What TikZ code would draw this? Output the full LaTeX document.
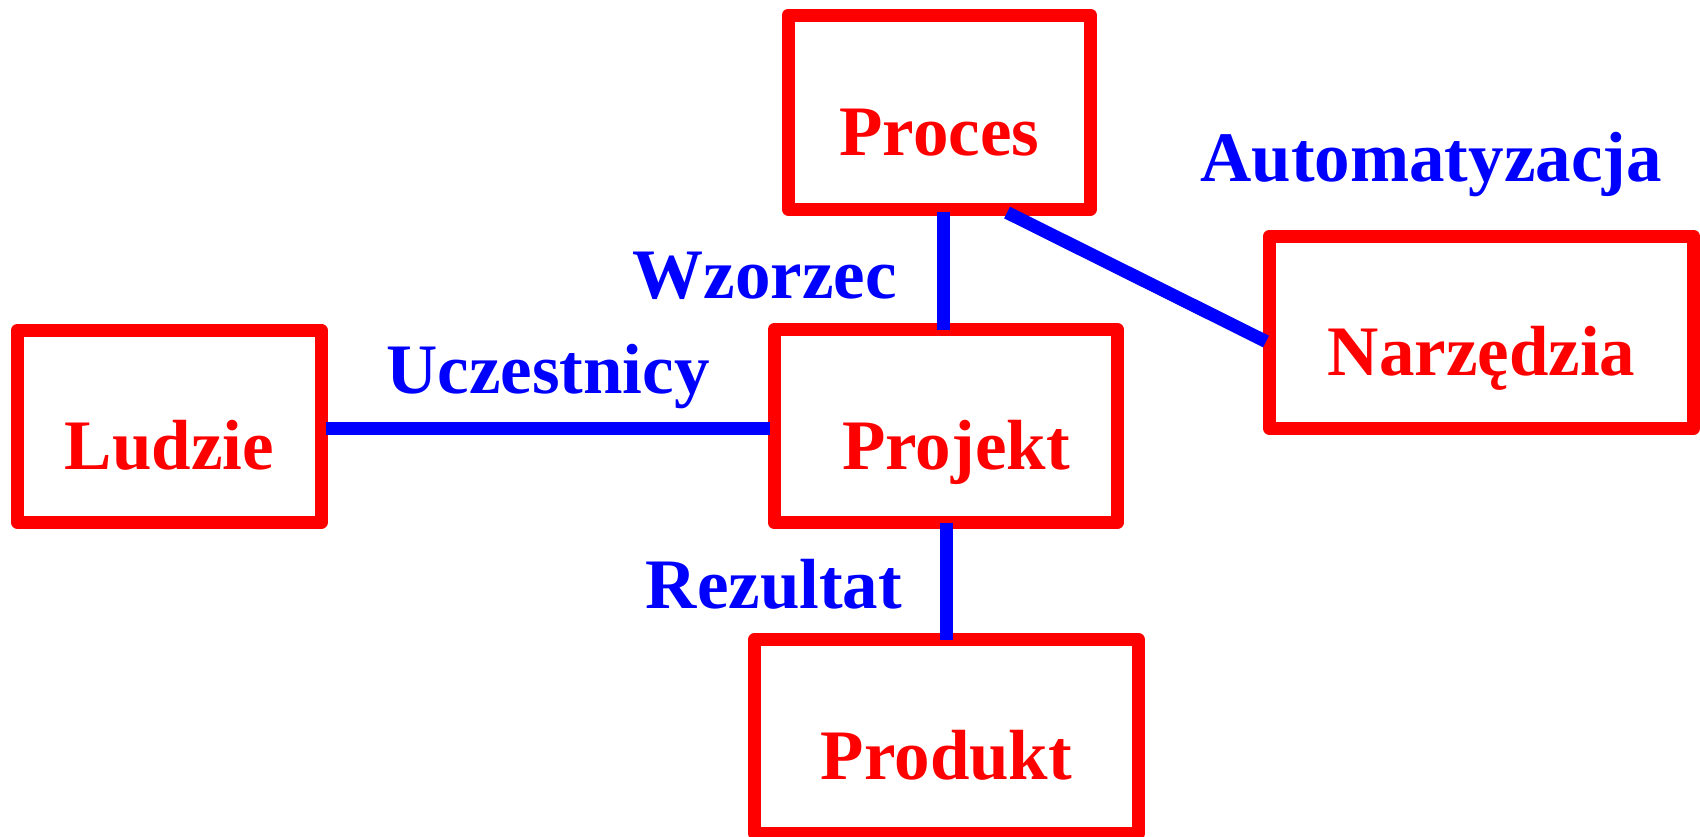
\documentclass[tikz,border=0pt]{standalone}
\usepackage{fontspec}
\setmainfont{Liberation Serif}
\definecolor{rd}{RGB}{255,0,0}
\definecolor{bl}{RGB}{0,0,255}
\tikzset{
  box/.style={draw=rd, line width=13pt, line join=round, text=rd,
    font=\fontsize{71}{80}\selectfont\bfseries,
    text height=86pt, text depth=0pt, inner sep=0pt, outer sep=0pt, anchor=center},
  conn/.style={draw=bl, line width=13pt},
  lbl/.style={text=bl, font=\fontsize{71}{80}\selectfont\bfseries,
    inner sep=0pt, outer sep=0pt, anchor=base}
}
\begin{document}
\begin{tikzpicture}[x=1pt,y=-1pt]
\useasboundingbox (0,0) rectangle (1700,836);
% boxes
\node[box, minimum width=302.5pt, minimum height=194pt] (proces) at (939.25,112) {Proces};
\node[box, minimum width=303.5pt, minimum height=192.5pt] (ludzie) at (169.25,426.25) {Ludzie};
\node[box, minimum width=343.5pt, minimum height=192.8pt] (projekt) at (945.75,426.1) {\hspace*{20.5pt}Projekt};
\node[box, minimum width=424pt, minimum height=192.5pt] (narz) at (1481.5,332.25) {Narzędzia};
\node[box, minimum width=384pt, minimum height=193.8pt] (produkt) at (946.5,736.4) {Produkt};
% connectors
\draw[conn] ([xshift=3.75pt,yshift=-3pt]proces.south) -- ([xshift=-2.75pt]projekt.north);
\draw[conn] ([xshift=5pt,yshift=-2.25pt]ludzie.east) -- ([xshift=-4pt,yshift=-2.4pt]projekt.west);
\draw[conn] ([xshift=0.25pt]projekt.south) -- ([xshift=-0.5pt]produkt.north);
\draw[conn] ([xshift=67.75pt,yshift=-3.5pt]proces.south) -- ([xshift=-3.5pt,yshift=-9.25pt]narz.west);
% labels
\node[lbl] (lautom) at (1431,181.7) {Automatyzacja};
\node[lbl] (lwzor) at (764.9,298.3) {Wzorzec};
\node[lbl] (lucz) at (548,393.3) {Uczestnicy};
\node[lbl] (lrez) at (773.9,608.3) {Rezultat};
\end{tikzpicture}
\end{document}
